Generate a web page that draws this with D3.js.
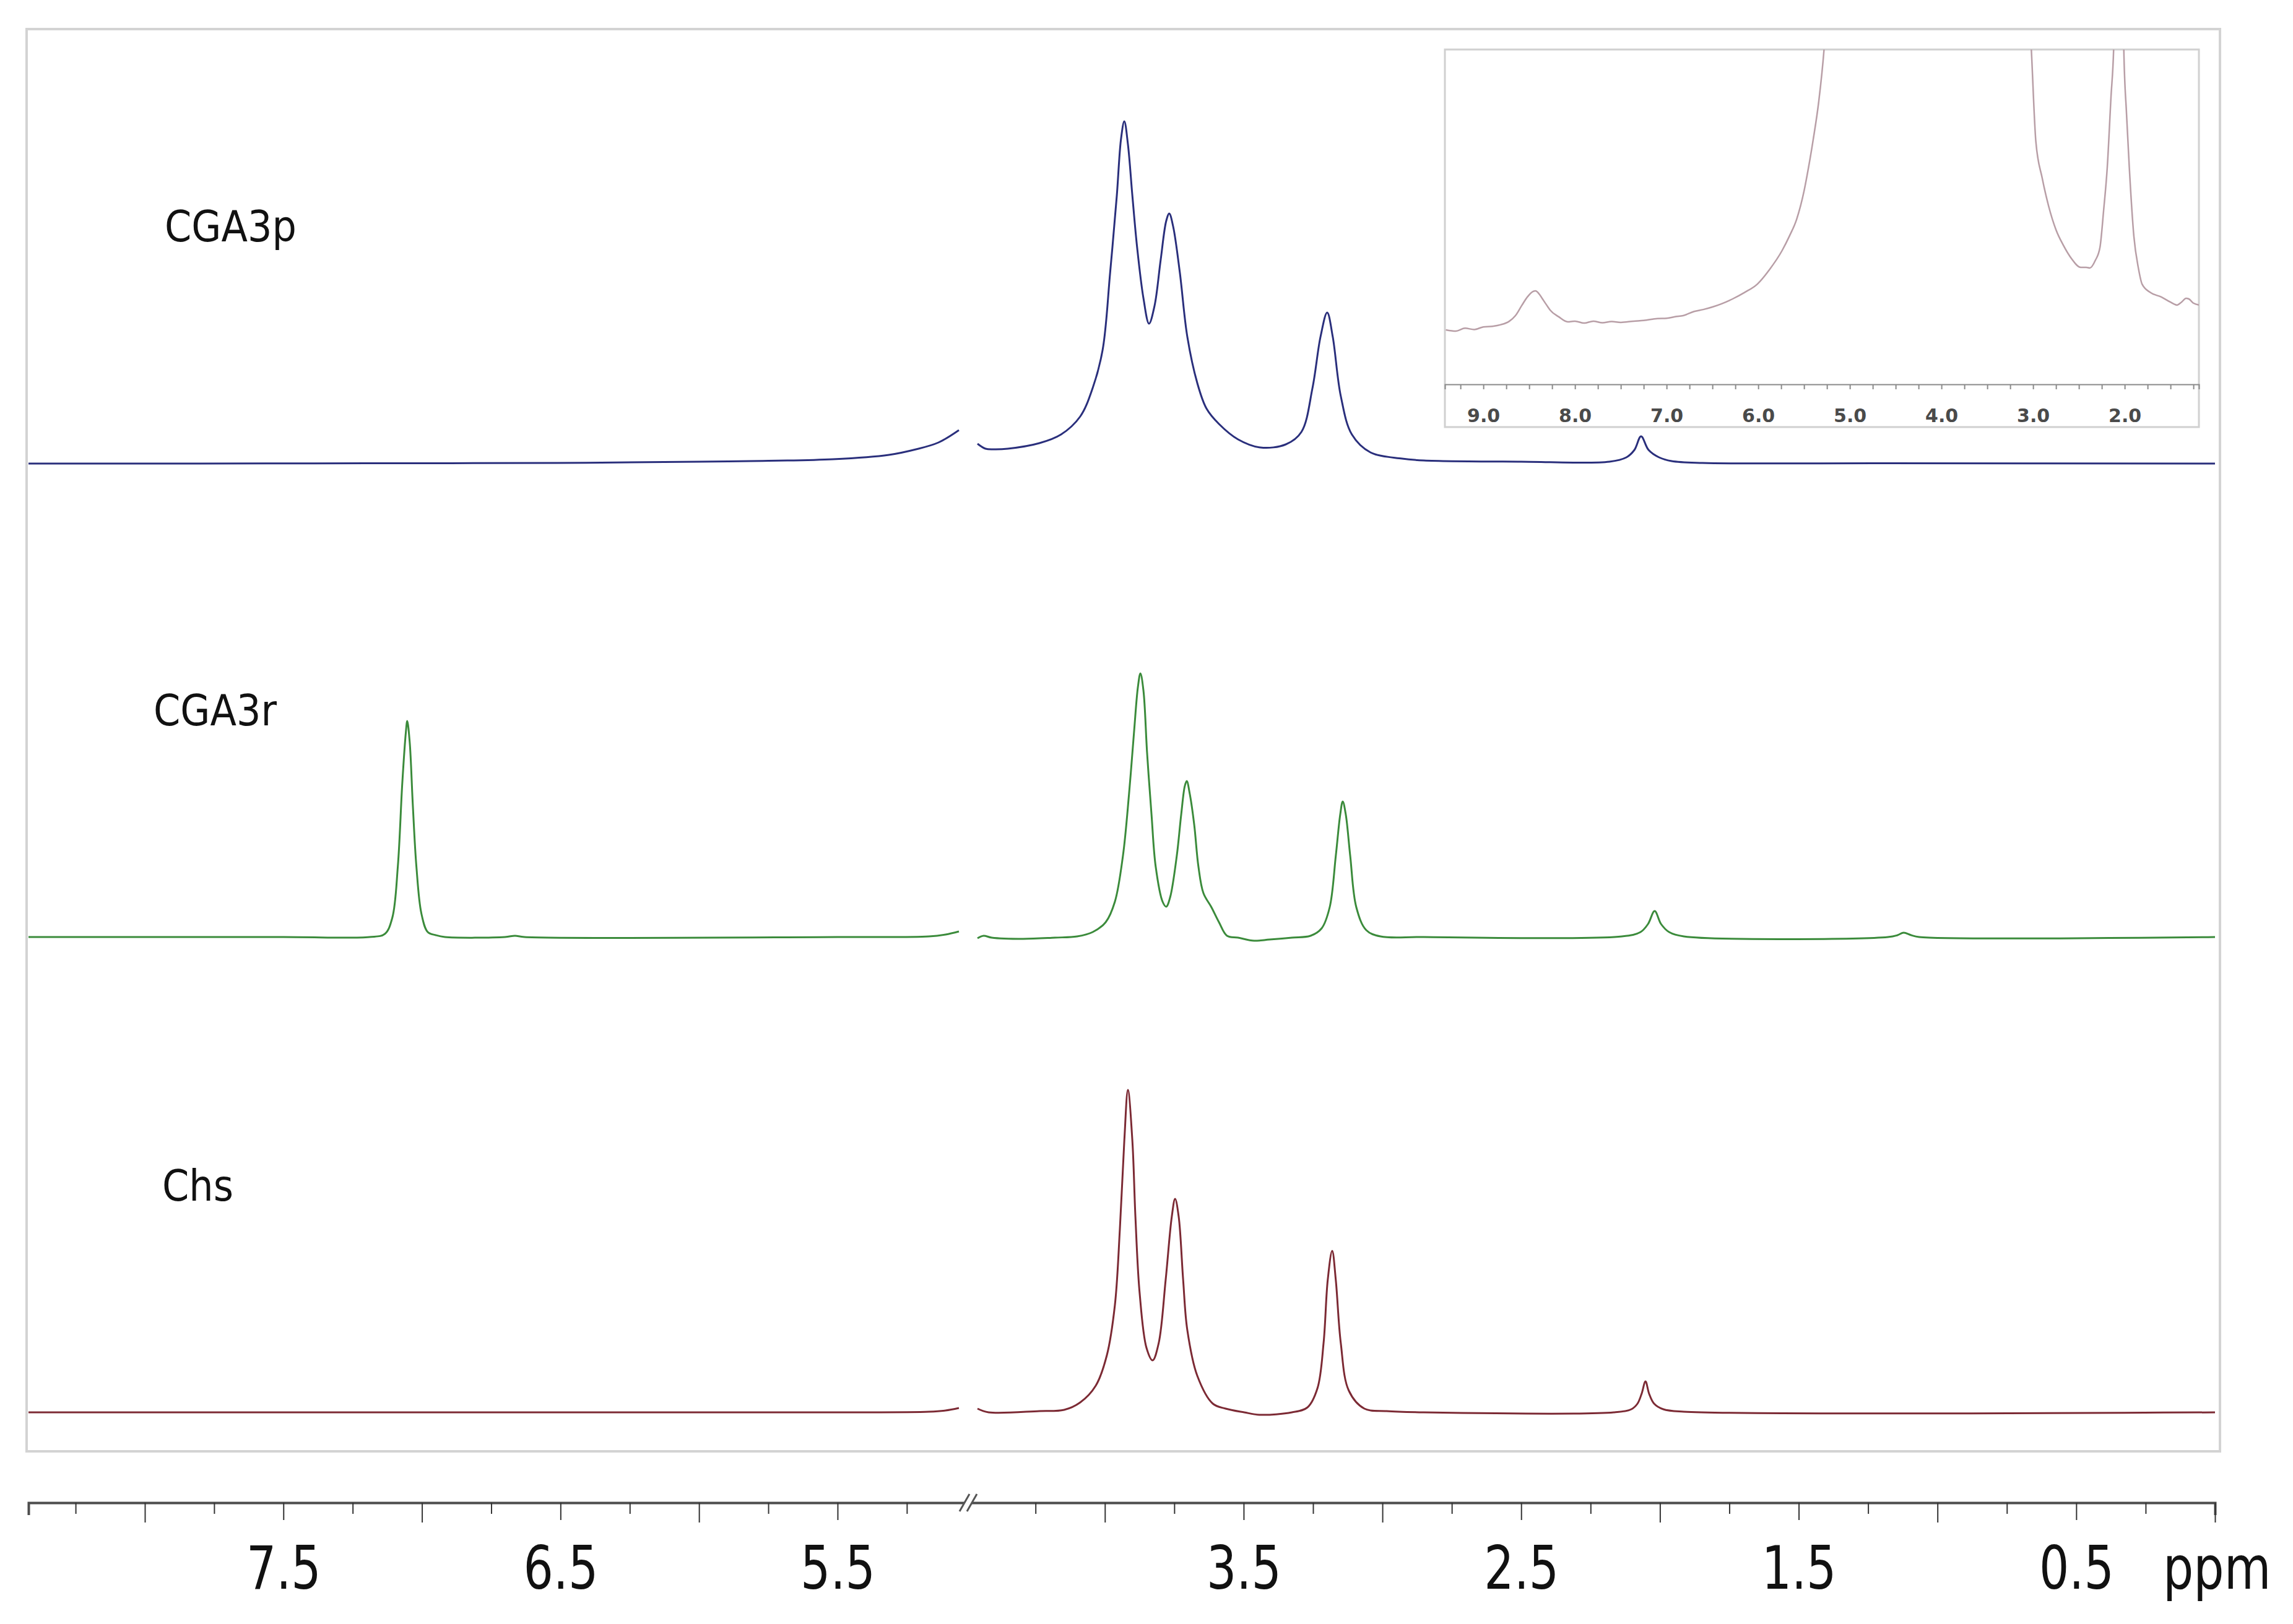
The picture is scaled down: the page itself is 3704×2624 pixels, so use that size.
<!DOCTYPE html>
<html><head><meta charset="utf-8">
<script src="https://cdn.jsdelivr.net/npm/d3@7"></script>
<style>html,body{margin:0;padding:0;background:#fff;} svg{display:block;}</style>
</head><body>
<svg id="chart" width="3704" height="2624"></svg>
<script>
// ---------------- DATA (ppm, intensity) ----------------
const seriesNames = ["CGA3p", "CGA3r", "Chs"];

const cga3pLeft = [[8.42,0],[7.8,0],[7.2,0.5],[6.51,1],[6.0,3],[5.815,4],[5.516,7],[5.315,14],[5.217,23],[5.136,34],[5.062,54]];
const cga3pRight = [[4.459,32],[4.43,24],[4.40,23],[4.35,24],[4.236,33],[4.158,47],[4.089,76],[4.044,122],[4.008,184],[3.981,309],[3.957,433],[3.942,524],[3.930,553],[3.917,516],[3.901,433],[3.884,350],[3.861,267],[3.841,226],[3.821,255],[3.799,329],[3.779,392],[3.768,404],[3.754,383],[3.730,309],[3.703,205],[3.667,130],[3.634,89],[3.589,64],[3.520,39],[3.440,26],[3.348,31],[3.292,51],[3.252,122],[3.223,205],[3.199,244],[3.179,205],[3.150,109],[3.110,47],[3.043,18],[2.929,8],[2.851,5],[2.5,3],[2.182,3],[2.121,10],[2.092,22],[2.068,44],[2.041,22],[2.003,10],[1.958,4],[1.847,1],[1.2,0.5],[0.0,0]];

const cga3rLeft = [[8.42,0],[7.5,0],[7.189,0],[7.134,5],[7.107,31],[7.087,114],[7.071,248],[7.058,331],[7.053,349],[7.044,314],[7.033,214],[7.020,114],[7.002,38],[6.979,8],[6.950,3],[6.917,0],[6.70,0],[6.664,2],[6.63,0],[5.5,0],[5.17,1],[5.11,4],[5.062,9]];
const cga3rRight = [[4.459,-2],[4.437,2],[4.408,-1],[4.294,-3],[4.180,-1],[4.100,1],[4.044,8],[3.997,24],[3.964,57],[3.935,131],[3.913,231],[3.895,331],[3.881,404],[3.872,426],[3.861,398],[3.848,298],[3.832,198],[3.817,114],[3.792,57],[3.779,49],[3.765,64],[3.741,131],[3.725,198],[3.712,244],[3.705,252],[3.694,231],[3.678,181],[3.663,114],[3.645,71],[3.616,48],[3.589,24],[3.560,2],[3.520,-1],[3.462,-6],[3.406,-4],[3.326,-1],[3.259,2],[3.219,14],[3.190,48],[3.168,131],[3.152,198],[3.143,219],[3.132,198],[3.116,131],[3.094,48],[3.058,11],[3.007,1],[2.851,0],[2.137,1],[2.070,8],[2.043,21],[2.019,42],[1.996,21],[1.967,8],[1.914,1],[1.178,0],[1.144,3],[1.122,7],[1.095,3],[1.066,0],[0.0,0]];

const chsLeft = [[8.42,0],[7.5,0],[6.5,0],[5.5,0],[5.17,1],[5.11,3],[5.062,7]];
const chsRight = [[4.459,6],[4.419,0],[4.236,2],[4.147,4],[4.089,16],[4.033,43],[3.993,92],[3.964,173],[3.946,296],[3.930,439],[3.917,521],[3.901,439],[3.890,316],[3.875,194],[3.850,104],[3.828,84],[3.806,112],[3.781,214],[3.759,316],[3.747,345],[3.734,316],[3.718,214],[3.703,133],[3.667,59],[3.611,14],[3.565,6],[3.498,0],[3.440,-4],[3.326,0],[3.270,8],[3.234,39],[3.212,112],[3.197,214],[3.181,261],[3.168,214],[3.150,112],[3.121,35],[3.065,6],[2.985,2],[2.851,0],[2.166,0],[2.103,5],[2.081,14],[2.066,30],[2.052,50],[2.039,30],[2.021,14],[1.988,5],[1.914,1],[0.0,0]];

const insetSpectrum = [[9.41,12.9],[9.3,12.5],[9.2,13.4],[9.1,13.0],[9.0,13.8],[8.9,14.0],[8.81,14.5],[8.72,15.5],[8.65,17.3],[8.58,20.5],[8.52,23.1],[8.46,24.8],[8.43,25.0],[8.39,24.0],[8.35,22.3],[8.3,20.2],[8.27,19.0],[8.18,17.0],[8.08,15.4],[8.0,15.6],[7.9,15.0],[7.8,15.6],[7.7,15.1],[7.6,15.5],[7.5,15.2],[7.36,15.6],[7.25,15.8],[7.1,16.4],[7.0,16.5],[6.9,17.0],[6.82,17.3],[6.7,18.6],[6.6,19.2],[6.5,20.0],[6.4,21.0],[6.28,22.5],[6.15,24.5],[6.01,27.1],[5.88,31.5],[5.74,37.5],[5.66,42],[5.58,47.3],[5.5,56],[5.45,63.5],[5.4,72],[5.34,83.7],[5.28,100.6],[5.2,140],[3.1,140],[3.02,100.6],[2.97,71.5],[2.9,60],[2.83,51.3],[2.75,44],[2.67,39.2],[2.58,35],[2.48,32.3],[2.42,32.3],[2.38,32.1],[2.32,34.5],[2.27,38.5],[2.23,50],[2.19,63.5],[2.15,85],[2.12,100.6],[2.09,140],[2.03,140],[2.01,100.6],[1.98,80],[1.95,63.5],[1.9,42],[1.85,32],[1.81,27.1],[1.72,24.5],[1.6,23.1],[1.5,21.5],[1.43,20.6],[1.38,21.5],[1.33,22.7],[1.3,22.5],[1.25,21.2],[1.19,20.6]];

const mainTicks = [8.25,8.0,7.75,7.5,7.25,7.0,6.75,6.5,6.25,6.0,5.75,5.5,5.25,4.25,4.0,3.75,3.5,3.25,3.0,2.75,2.5,2.25,2.0,1.75,1.5,1.25,1.0,0.75,0.5,0.25,0.0];
const mainTickLabels = [7.5,6.5,5.5,3.5,2.5,1.5,0.5];
const insetTicks = [9.25,9.0,8.75,8.5,8.25,8.0,7.75,7.5,7.25,7.0,6.75,6.5,6.25,6.0,5.75,5.5,5.25,5.0,4.75,4.5,4.25,4.0,3.75,3.5,3.25,3.0,2.75,2.5,2.25,2.0,1.75,1.5,1.25];
const insetTickLabels = [9.0,8.0,7.0,6.0,5.0,4.0,3.0,2.0];

// ---------------- DRAWING ----------------
const svg = d3.select("#chart");
svg.append("rect").attr("width",3704).attr("height",2624).attr("fill","#fff");

// broken ppm axis (gap in the water region)
const x = d3.scaleLinear().domain([8.42, 5.062, 4.459, 0]).range([46, 1549, 1579, 3578]);

// frame
svg.append("rect").attr("x",43).attr("y",47).attr("width",3543).attr("height",2298)
  .attr("fill","none").attr("stroke","#d3d3d3").attr("stroke-width",4);

const traces = [
  {name: seriesNames[0], left: cga3pLeft, right: cga3pRight, base: 749, color: "#2a2f7c", lx: 266, ly: 390},
  {name: seriesNames[1], left: cga3rLeft, right: cga3rRight, base: 1514, color: "#3b8b3b", lx: 248, ly: 1172},
  {name: seriesNames[2], left: chsLeft, right: chsRight, base: 2282, color: "#7c2a34", lx: 262, ly: 1940}
];

const curve = d3.curveCatmullRom.alpha(0.5);

traces.forEach(t => {
  const y = d3.scaleLinear().domain([0, 600]).range([t.base, t.base - 600]);
  const line = d3.line().x(d => x(d[0])).y(d => y(d[1])).curve(curve);
  [t.left, t.right].forEach(seg => {
    svg.append("path").attr("d", line(seg)).attr("fill","none")
      .attr("stroke", t.color).attr("stroke-width", 3).attr("stroke-linejoin","round");
  });
  svg.append("text").attr("x", t.lx).attr("y", t.ly).text(t.name)
    .attr("font-family","'DejaVu Sans Condensed','DejaVu Sans',sans-serif")
    .attr("font-size", 69).attr("fill","#111");
});

// main axis
const axisY = 2428;
const gMinor = svg.append("g").attr("transform", `translate(0,${axisY})`)
  .call(d3.axisBottom(x).tickValues(mainTicks).tickSizeOuter(0)
    .tickSize(20).tickFormat(""));
gMinor.select(".domain").attr("stroke","#4d4d4d").attr("stroke-width",4);
gMinor.selectAll(".tick line")
  .attr("y2", d => (Math.abs(d - Math.round(d)) < 1e-6 ? 32 : (Math.abs(d*2 - Math.round(d*2)) < 1e-6 ? 28 : 18)))
  .attr("stroke","#333").attr("stroke-width",2);

const gLab = svg.append("g").attr("transform", `translate(0,${axisY})`)
  .call(d3.axisBottom(x).tickValues(mainTickLabels).tickSize(0).tickFormat(d3.format(".1f")));
gLab.select(".domain").remove();
gLab.selectAll(".tick text").attr("y", 139).attr("dy", 0)
  .attr("transform","scale(0.88,1)")
  .attr("font-family","'DejaVu Sans Condensed','DejaVu Sans',sans-serif")
  .attr("font-size", 96).attr("fill","#111");

svg.append("text").attr("transform", `translate(3494,${axisY + 139}) scale(0.9,1)`).text("ppm")
  .attr("font-family","'DejaVu Sans Condensed','DejaVu Sans',sans-serif")
  .attr("font-size", 96).attr("fill","#111");

// axis break marks
const bx = (x(5.062) + x(4.459)) / 2;
svg.append("rect").attr("x", bx - 6).attr("y", axisY - 4).attr("width", 12).attr("height", 8).attr("fill","#fff");
[-6, 6].forEach(o => {
  svg.append("line").attr("x1", bx + o - 8).attr("y1", axisY + 14).attr("x2", bx + o + 8).attr("y2", axisY - 14)
    .attr("stroke","#555").attr("stroke-width",3);
});

// ---------------- INSET ----------------
const ix0 = 2334, ix1 = 3552, iy0 = 80, iy1 = 690, iAxisY = 621;
const xi = d3.scaleLinear().domain([9.42, 1.19]).range([ix0, ix1]);
const yi = d3.scaleLinear().domain([0, 100]).range([600, iy0]);

svg.append("rect").attr("x", ix0).attr("y", iy0).attr("width", ix1 - ix0).attr("height", iy1 - iy0)
  .attr("fill","#fff").attr("stroke","#d0d0d0").attr("stroke-width",3);

svg.append("clipPath").attr("id","insetClip").append("rect")
  .attr("x", ix0).attr("y", iy0).attr("width", ix1 - ix0).attr("height", iAxisY - iy0);

svg.append("path").attr("clip-path","url(#insetClip)")
  .attr("d", d3.line().x(d => xi(d[0])).y(d => yi(d[1])).curve(d3.curveMonotoneX)(insetSpectrum))
  .attr("fill","none").attr("stroke","#b89ea6").attr("stroke-width",2.5);

const gi = svg.append("g").attr("transform", `translate(0,${iAxisY})`)
  .call(d3.axisBottom(xi).tickValues(insetTicks).tickSizeOuter(0).tickSize(8).tickFormat(""));
gi.select(".domain").attr("stroke","#8a8a8a").attr("stroke-width",2);
gi.selectAll(".tick line").attr("stroke","#8a8a8a").attr("stroke-width",2);

const giL = svg.append("g").attr("transform", `translate(0,${iAxisY})`)
  .call(d3.axisBottom(xi).tickValues(insetTickLabels).tickSize(0).tickFormat(d3.format(".1f")));
giL.select(".domain").remove();
giL.selectAll(".tick text").attr("y", 61).attr("dy", 0)
  .attr("font-family","'DejaVu Sans','Verdana',sans-serif").attr("font-weight","bold")
  .attr("font-size", 30).attr("fill","#4a4a4a");
</script>
</body></html>
